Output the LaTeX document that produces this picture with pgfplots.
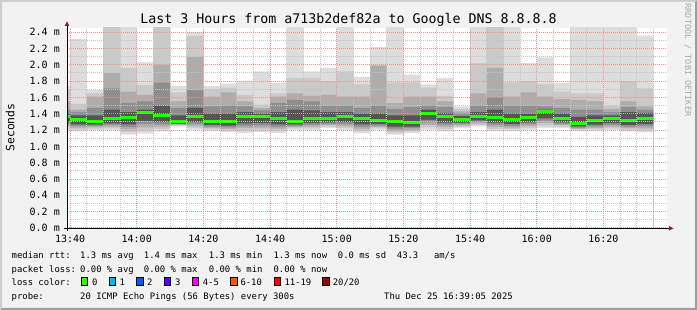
\documentclass[border=0pt]{standalone}
\usepackage{fontspec}
\setmainfont{DejaVu Sans Mono}
\setmonofont{DejaVu Sans Mono}
\usepackage{pgfplots}
\usepackage{pgfplotstable}
\pgfplotsset{compat=1.18}
\definecolor{bg}{HTML}{F2F2F2}
\definecolor{shadeA}{HTML}{CFCFCF}
\definecolor{shadeB}{HTML}{9E9E9E}
\definecolor{mgrid}{HTML}{F09090}
\definecolor{ngrid}{HTML}{C4C4C4}
\definecolor{arrowc}{HTML}{8B1A1A}
\definecolor{wmc}{HTML}{AAAAAA}
\definecolor{c1}{HTML}{DDDDDD}
\definecolor{c2}{HTML}{C9C9C9}
\definecolor{c3}{HTML}{ADADAD}
\definecolor{c4}{HTML}{8E8E8E}
\definecolor{c5}{HTML}{555555}
\definecolor{l0}{HTML}{26FF00}
\definecolor{l1}{HTML}{00B8FF}
\definecolor{l2}{HTML}{0059FF}
\definecolor{l3}{HTML}{5E00FF}
\definecolor{l4}{HTML}{FF00FF}
\definecolor{l5}{HTML}{FF5500}
\definecolor{l6}{HTML}{FF0000}
\definecolor{l7}{HTML}{A10000}

\pgfplotstableread{
x mx a2 a3 a4 a5 md b5 b4 b3 b2 mn
-5 1.74 1.70 1.55 1.45 1.40 1.370 1.302 1.277 1.251 1.226 1.200
0 2.32 1.52 1.45 1.42 1.38 1.327 1.270 1.248 1.227 1.205 1.184
5 1.69 1.65 1.61 1.47 1.38 1.310 1.266 1.250 1.233 1.217 1.200
10 2.70 2.60 1.90 1.71 1.45 1.339 1.283 1.263 1.242 1.221 1.200
15 2.60 1.96 1.67 1.53 1.42 1.355 1.270 1.238 1.207 1.175 1.143
20 2.03 1.75 1.63 1.55 1.45 1.416 1.312 1.272 1.233 1.194 1.155
25 2.70 2.60 2.00 1.78 1.50 1.376 1.299 1.270 1.242 1.213 1.184
30 1.74 1.66 1.55 1.47 1.38 1.302 1.279 1.271 1.262 1.254 1.245
35 2.40 2.35 2.10 1.69 1.47 1.360 1.298 1.274 1.251 1.227 1.204
40 1.74 1.70 1.61 1.49 1.40 1.305 1.259 1.242 1.225 1.207 1.190
45 1.77 1.72 1.66 1.50 1.40 1.306 1.254 1.234 1.214 1.195 1.175
50 1.80 1.63 1.55 1.49 1.42 1.360 1.281 1.252 1.222 1.193 1.163
55 1.92 1.51 1.47 1.44 1.40 1.360 1.286 1.258 1.231 1.203 1.175
60 1.78 1.65 1.61 1.53 1.42 1.340 1.269 1.243 1.216 1.190 1.163
65 2.60 1.84 1.65 1.57 1.45 1.310 1.268 1.252 1.236 1.220 1.204
70 1.92 1.84 1.62 1.55 1.44 1.340 1.284 1.263 1.242 1.221 1.200
75 1.96 1.80 1.63 1.50 1.42 1.340 1.294 1.277 1.260 1.242 1.225
80 2.60 1.92 1.61 1.50 1.42 1.360 1.296 1.272 1.248 1.224 1.200
85 1.85 1.76 1.61 1.47 1.40 1.340 1.268 1.241 1.214 1.187 1.160
90 2.22 2.00 1.99 1.50 1.40 1.317 1.272 1.255 1.238 1.221 1.204
95 2.60 1.78 1.53 1.46 1.38 1.307 1.241 1.217 1.192 1.168 1.143
100 1.88 1.78 1.61 1.48 1.38 1.294 1.242 1.222 1.202 1.183 1.163
105 1.76 1.72 1.61 1.50 1.45 1.405 1.325 1.294 1.264 1.234 1.204
110 1.84 1.62 1.55 1.48 1.41 1.364 1.292 1.265 1.238 1.211 1.184
115 1.49 1.46 1.43 1.40 1.37 1.333 1.290 1.274 1.257 1.241 1.225
120 2.60 2.02 1.65 1.50 1.42 1.366 1.318 1.299 1.281 1.263 1.245
125 2.60 2.50 1.96 1.60 1.45 1.358 1.291 1.266 1.240 1.215 1.190
130 2.60 1.78 1.61 1.50 1.40 1.327 1.272 1.252 1.231 1.211 1.190
135 2.02 1.80 1.66 1.50 1.40 1.353 1.293 1.271 1.249 1.226 1.204
140 2.09 1.76 1.61 1.49 1.45 1.423 1.344 1.314 1.284 1.255 1.225
145 1.78 1.67 1.58 1.47 1.40 1.341 1.295 1.277 1.260 1.242 1.225
150 2.60 1.65 1.57 1.45 1.36 1.282 1.245 1.231 1.218 1.204 1.190
155 2.60 1.65 1.55 1.45 1.38 1.315 1.265 1.246 1.228 1.209 1.190
160 2.60 1.50 1.46 1.42 1.38 1.340 1.284 1.263 1.242 1.221 1.200
165 2.60 1.80 1.55 1.48 1.42 1.312 1.261 1.242 1.222 1.203 1.184
170 2.356 1.71 1.49 1.45 1.41 1.341 1.273 1.247 1.221 1.196 1.170
175 2.356 1.71 1.49 1.45 1.41 1.341 1.273 1.247 1.221 1.196 1.170
}\smoke

\newcommand{\lf}{\fontsize{8.9bp}{10bp}\selectfont}

\begin{document}
\begin{tikzpicture}
\useasboundingbox (0,0) rectangle (697bp,310bp);
\fill[bg] (0,0) rectangle (697bp,310bp);
\fill[shadeA] (0,0) -- (0,310bp) -- (697bp,310bp) -- (695bp,308bp) -- (2bp,308bp) -- (2bp,2bp) -- cycle;
\fill[shadeB] (0,0) -- (697bp,0) -- (697bp,310bp) -- (695bp,308bp) -- (695bp,2bp) -- (2bp,2bp) -- cycle;
\begin{axis}[
  at={(67bp,82bp)}, anchor=south west,
  scale only axis, width=600bp, height=200bp,
  xmin=-0.9167, xmax=179.0833, ymin=0, ymax=2.45,
  axis background/.style={fill=white},
  axis on top,
  axis line style={draw=none},
  xtick={0,20,40,60,80,100,120,140,160},
  xticklabels={13:40,14:00,14:20,14:40,15:00,15:20,15:40,16:00,16:20},
  minor xtick={5,10,15,25,30,35,45,50,55,65,70,75,85,90,95,105,110,115,125,130,135,145,150,155,165,170,175},
  ytick={0,0.2,0.4,0.6,0.8,1.0,1.2,1.4,1.6,1.8,2.0,2.2,2.4},
  yticklabels={0.0 m,0.2 m,0.4 m,0.6 m,0.8 m,1.0 m,1.2 m,1.4 m,1.6 m,1.8 m,2.0 m,2.2 m,2.4 m},
  minor ytick={0.1,0.3,0.5,0.7,0.9,1.1,1.3,1.5,1.7,1.9,2.1,2.3},
  grid=both,
  major grid style={draw=mgrid, line width=1bp, dash pattern=on 1bp off 1bp},
  minor grid style={draw=ngrid, line width=1bp, dash pattern=on 1bp off 1bp},
  major tick length=0pt, minor tick length=0pt,
  xticklabel style={anchor=north, inner sep=0pt, yshift=-6.7bp, font=\fontsize{10bp}{12bp}\selectfont},
  yticklabel style={anchor=east, inner sep=0pt, xshift=-7bp, font=\fontsize{10bp}{12bp}\selectfont},
]
\addplot[const plot, fill=c1, draw=none] table[x=x,y=mx]{\smoke} \closedcycle;
\addplot[const plot, fill=c2, draw=none] table[x=x,y=a2]{\smoke} \closedcycle;
\addplot[const plot, fill=c3, draw=none] table[x=x,y=a3]{\smoke} \closedcycle;
\addplot[const plot, fill=c4, draw=none] table[x=x,y=a4]{\smoke} \closedcycle;
\addplot[const plot, fill=c5, draw=none] table[x=x,y=a5]{\smoke} \closedcycle;
\addplot[const plot, fill=c4, draw=none] table[x=x,y=b5]{\smoke} \closedcycle;
\addplot[const plot, fill=c3, draw=none] table[x=x,y=b4]{\smoke} \closedcycle;
\addplot[const plot, fill=c2, draw=none] table[x=x,y=b3]{\smoke} \closedcycle;
\addplot[const plot, fill=c1, draw=none] table[x=x,y=b2]{\smoke} \closedcycle;
\addplot[const plot, fill=white, draw=none] table[x=x,y=mn]{\smoke} \closedcycle;
\addplot[jump mark left, draw=l0, line width=3bp, line cap=butt] table[x=x,y=md]{\smoke};
\end{axis}
% axes
\draw[black, line width=1bp] (64bp,81.7bp) -- (670bp,81.7bp);
\fill[arrowc] (673.5bp,81.7bp) -- (669bp,84bp) -- (669bp,79.4bp) -- cycle;
\draw[black, line width=1bp] (67bp,79bp) -- (67bp,284.5bp);
\fill[arrowc] (67bp,288.5bp) -- (64.7bp,284bp) -- (69.3bp,284bp) -- cycle;
% titles
\node[font=\fontsize{13.3bp}{16bp}\selectfont, anchor=base, inner sep=0pt] at (348.5bp,286bp) {Last 3 Hours from a713b2def82a to Google DNS 8.8.8.8};
\node[rotate=90, anchor=base, inner sep=0pt, font=\fontsize{11.4bp}{14bp}\selectfont] at (14.3bp,182.5bp) {Seconds};
\node[rotate=-90, anchor=base, inner sep=0pt, text=wmc, font=\fontsize{8.5bp}{10bp}\selectfont] at (685bp,250bp) {RRDTOOL / TOBI OETIKER};
% legend
\begin{scope}[every node/.style={anchor=base west, inner sep=0pt, font=\lf}]
\node at (11.5bp,51.7bp) {median rtt:};
\node at (80bp,51.7bp) {1.3 ms avg};
\node at (143.7bp,51.7bp) {1.4 ms max};
\node at (208.7bp,51.7bp) {1.3 ms min};
\node at (273.4bp,51.7bp) {1.3 ms now};
\node at (337.7bp,51.7bp) {0.0 ms sd};
\node at (396.7bp,51.7bp) {43.3};
\node at (433.8bp,51.7bp) {am/s};
\node at (11.5bp,38bp) {packet loss:};
\node at (80bp,38bp) {0.00 \% avg};
\node at (143.7bp,38bp) {0.00 \% max};
\node at (208.7bp,38bp) {0.00 \% min};
\node at (273.4bp,38bp) {0.00 \% now};
\node at (11.5bp,24.3bp) {loss color:};
\node at (92bp,24.3bp) {0};
\node at (119.3bp,24.3bp) {1};
\node at (147bp,24.3bp) {2};
\node at (175bp,24.3bp) {3};
\node at (202.6bp,24.3bp) {4-5};
\node at (240.3bp,24.3bp) {6-10};
\node at (284.3bp,24.3bp) {11-19};
\node at (332.6bp,24.3bp) {20/20};
\node at (11.5bp,10.6bp) {probe:};
\node at (80bp,10.6bp) {20 ICMP Echo Pings (56 Bytes) every 300s};
\node at (384bp,10.6bp) {Thu Dec 25 16:39:05 2025};
\end{scope}
\foreach \bx/\cc in {81/l0,109/l1,136.7/l2,164.3/l3,192.3/l4,230.7/l5,274/l6,322.7/l7}{
  \filldraw[fill=\cc, draw=black, line width=0.8bp] (\bx bp,24.2bp) rectangle ++(6.5bp,8.1bp);
}
\end{tikzpicture}
\end{document}
